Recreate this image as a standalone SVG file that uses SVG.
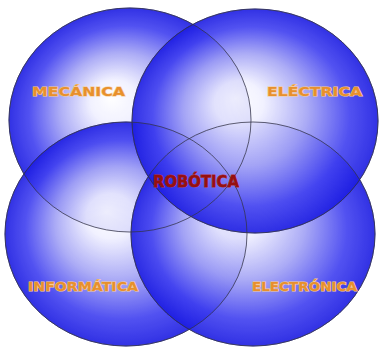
<svg xmlns="http://www.w3.org/2000/svg" width="380" height="349" viewBox="0 0 380 349">
<defs>
<radialGradient id="g" cx="0.5" cy="0.5" r="0.5" fx="0.42" fy="0.4">
<stop offset="0" stop-color="#ffffff"/>
<stop offset="0.2" stop-color="#f0f0ff"/>
<stop offset="0.5" stop-color="#a4a4f6"/>
<stop offset="0.8" stop-color="#4040f0"/>
<stop offset="1" stop-color="#1c1ce2"/>
</radialGradient>
<style>
.f{fill:url(#g);stroke:#1a1aa0;stroke-width:0.8;opacity:0.9}
.o{fill:none;stroke:#333348;stroke-width:0.9;opacity:0.85}
.lbl{font-family:"DejaVu Sans","Liberation Sans",sans-serif;font-weight:bold;font-size:13px;fill:#e8902c;stroke:#f6cc96;stroke-width:1.2;paint-order:stroke}
.ctr{font-family:"DejaVu Sans","Liberation Sans",sans-serif;font-weight:bold;font-size:15px;fill:#961010;stroke:#b83030;stroke-width:0.8;paint-order:stroke}
</style>
</defs>
<rect width="380" height="349" fill="#ffffff"/>
<g id="mecanica">
<ellipse class="f" cx="130" cy="120" rx="121" ry="112"/>
</g>
<g id="informatica">
<ellipse class="f" cx="126" cy="234" rx="121" ry="112"/>
</g>
<g id="electronica">
<ellipse class="f" cx="253" cy="234" rx="122" ry="112"/>
</g>
<g id="electrica">
<ellipse class="f" cx="255" cy="121" rx="123" ry="112"/>
</g>
<g id="connectors">
<ellipse class="o" cx="130" cy="120" rx="121" ry="112"/>
<ellipse class="o" cx="126" cy="234" rx="121" ry="112"/>
<ellipse class="o" cx="253" cy="234" rx="122" ry="112"/>
<ellipse class="o" cx="255" cy="121" rx="123" ry="112"/>
</g>
<g id="labels">
<text class="lbl" x="32" y="96" textLength="93" lengthAdjust="spacingAndGlyphs">MECÁNICA</text>
<text class="lbl" x="267" y="96" textLength="95" lengthAdjust="spacingAndGlyphs">ELÉCTRICA</text>
<text class="lbl" x="28" y="291" textLength="110" lengthAdjust="spacingAndGlyphs">INFORMÁTICA</text>
<text class="lbl" x="252" y="291" textLength="105" lengthAdjust="spacingAndGlyphs">ELECTRÓNICA</text>
</g>
<g id="robotica">
<text class="ctr" x="153" y="187" textLength="86" lengthAdjust="spacingAndGlyphs">ROBÓTICA</text>
</g>
</svg>
